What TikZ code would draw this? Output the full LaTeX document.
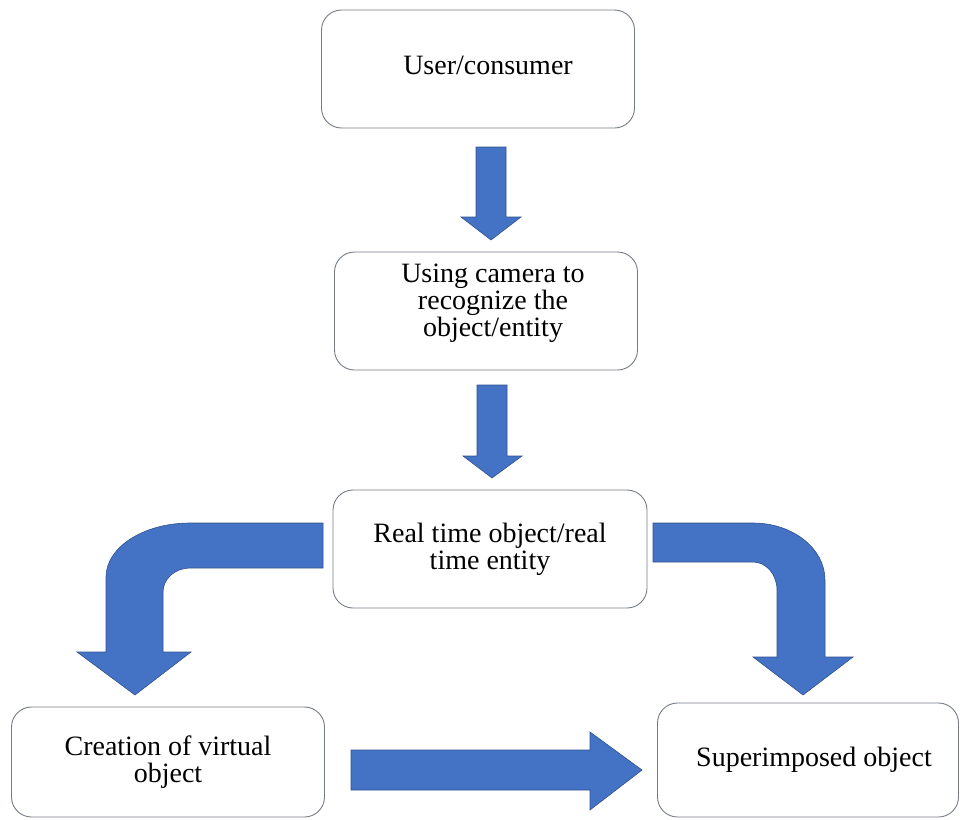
\documentclass[tikz,border=0pt]{standalone}
\usepackage{fontspec}
\setmainfont{Liberation Serif}
\usepackage{tikz, xcolor}
\newcommand{\unitsize}{1pt}
\definecolor{arrowblue}{RGB}{68,114,196}
\definecolor{arrowedge}{RGB}{47,82,143}
\definecolor{boxline}{RGB}{118,124,134}

\begin{document}
\begin{tikzpicture}
\useasboundingbox (0,0) rectangle (960*\unitsize,-819*\unitsize);
\tikzstyle{every node}=[draw=boxline,
			rounded corners=20*\unitsize,
			line width=0.9pt,
			fill=white,
			align=center,
			inner sep=0pt,
			font=\fontsize{28}{27}\selectfont
			]
\tikzstyle{blockarrow}=[fill=arrowblue, draw=arrowedge, line width=0.6pt]


\node[minimum width=313*\unitsize, minimum height=118*\unitsize] (user) at (478*\unitsize,-69*\unitsize) {\hspace*{20pt}User/consumer\\[-19pt]};


\node[minimum width=303*\unitsize, minimum height=118*\unitsize] (camera) at (486*\unitsize,-311*\unitsize) {\hspace*{14pt}Using camera to\\\hspace*{14pt}recognize the\\\hspace*{14pt}object/entity\\[-5pt]};


\node[minimum width=314*\unitsize, minimum height=118*\unitsize] (realtime) at (490*\unitsize,-549*\unitsize) {Real time object/real\\time entity};


\node[minimum width=313*\unitsize, minimum height=110*\unitsize] (virtual) at (168*\unitsize,-762*\unitsize) {Creation of virtual\\object};


\node[minimum width=301*\unitsize, minimum height=114*\unitsize] (super) at (808*\unitsize,-760*\unitsize) {\hspace*{12pt}Superimposed object};


\fill[blockarrow] (476*\unitsize,-147*\unitsize) -- (506*\unitsize,-147*\unitsize) -- (506*\unitsize,-217*\unitsize) -- (521*\unitsize,-217*\unitsize) -- (491*\unitsize,-240*\unitsize) -- (461*\unitsize,-217*\unitsize) -- (476*\unitsize,-217*\unitsize) -- cycle;


\fill[blockarrow] (477*\unitsize,-385*\unitsize) -- (507*\unitsize,-385*\unitsize) -- (507*\unitsize,-456*\unitsize) -- (522*\unitsize,-456*\unitsize) -- (492*\unitsize,-478*\unitsize) -- (463*\unitsize,-456*\unitsize) -- (477*\unitsize,-456*\unitsize) -- cycle;


\fill[blockarrow] (323*\unitsize,-523*\unitsize) -- (190*\unitsize,-523*\unitsize) arc[start angle=90, end angle=180, x radius=84*\unitsize, y radius=54*\unitsize] -- (106*\unitsize,-652*\unitsize) -- (77*\unitsize,-652*\unitsize) -- (135*\unitsize,-695*\unitsize) -- (191*\unitsize,-652*\unitsize) -- (163*\unitsize,-652*\unitsize) -- (163*\unitsize,-592*\unitsize) arc[start angle=180, end angle=90, x radius=27*\unitsize, y radius=24*\unitsize] -- (323*\unitsize,-568*\unitsize) -- cycle;


\fill[blockarrow] (653*\unitsize,-523*\unitsize) -- (753*\unitsize,-523*\unitsize) arc[start angle=90, end angle=0, x radius=72*\unitsize, y radius=57*\unitsize] -- (825*\unitsize,-657*\unitsize) -- (853*\unitsize,-657*\unitsize) -- (803*\unitsize,-695*\unitsize) -- (753*\unitsize,-657*\unitsize) -- (777*\unitsize,-657*\unitsize) -- (777*\unitsize,-590*\unitsize) arc[start angle=0, end angle=90, x radius=24*\unitsize, y radius=28*\unitsize] -- (653*\unitsize,-562*\unitsize) -- cycle;


\fill[blockarrow] (351*\unitsize,-750*\unitsize) -- (590*\unitsize,-750*\unitsize) -- (590*\unitsize,-732*\unitsize) -- (642*\unitsize,-770*\unitsize) -- (590*\unitsize,-810*\unitsize) -- (590*\unitsize,-790*\unitsize) -- (351*\unitsize,-790*\unitsize) -- cycle;

\end{tikzpicture}
\end{document}
